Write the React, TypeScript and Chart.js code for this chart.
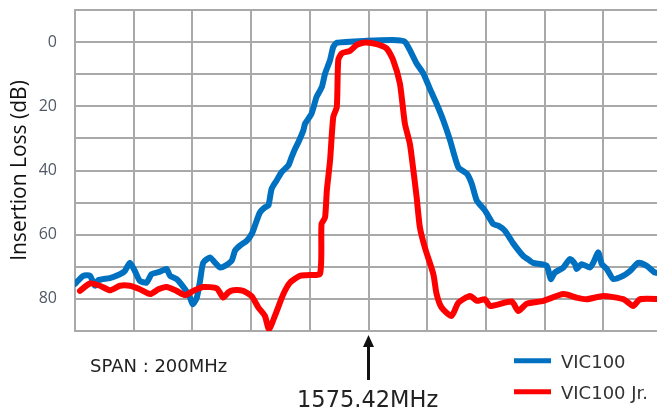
import React, { useEffect, useRef } from "react";
import { Chart, registerables } from "chart.js";

Chart.register(...registerables);

// Frequency offset from 1575.42 MHz (MHz), span 200 MHz
const vic100Freq = [
  -100, -97.2, -94.9, -93.2, -92.1, -88.1, -84.7, -83.0, -81.3, -79.6,
  -77.9, -75.6, -73.9, -71.0, -68.8, -67.6, -65.4, -62.5, -60.8, -59.9,
  -58.5, -57.4, -56.3, -54.0, -52.3, -50.6, -48.9, -46.6, -45.5, -43.8,
  -41.5, -39.8, -38.7, -37.0, -35.3, -34.1, -33.0, -31.3, -29.6, -27.3,
  -26.2, -25.0, -23.9, -22.2, -21.6, -19.4, -17.7, -15.9, -14.8, -13.1,
  -12.0, -10.8, -0.6, 9.6, 12.4, 14.1, 16.4, 18.7, 20.9, 23.2,
  25.5, 27.8, 30.6, 33.5, 35.2, 36.9, 39.7, 42.5, 44.2, 46.5,
  49.3, 52.7, 55.0, 56.1, 60.7, 62.1, 63.5, 66.4, 68.6, 70.4,
  70.9, 72.6, 75.5, 76.6, 78.3, 79.5, 81.2, 83.4, 86.8, 89.1,
  91.9, 94.8, 97.6, 100,
];
const vic100Loss = [
  75.3, 72.8, 72.8, 75.9, 74.2, 73.5, 72.3, 71.3, 68.7, 71.3,
  74.4, 74.9, 72.3, 71.5, 70.7, 72.8, 73.8, 77.0, 79.6, 81.7,
  79.6, 74.4, 68.7, 67.1, 68.7, 70.2, 69.7, 68.1, 65.0, 63.4,
  61.9, 59.8, 57.2, 53.1, 51.5, 50.9, 45.7, 43.1, 40.5, 38.4,
  35.8, 33.2, 31.2, 27.5, 25.4, 22.3, 17.1, 14.0, 9.8, 5.6,
  1.5, 0.2, -0.4, -0.6, -0.1, 2.5, 6.7, 9.8, 14.5, 19.2,
  24.4, 30.6, 39.0, 41.0, 44.2, 49.4, 52.5, 56.7, 57.2, 58.8,
  62.7, 66.6, 68.1, 68.8, 69.7, 73.8, 71.8, 70.2, 67.6, 69.2,
  70.7, 69.2, 70.2, 68.7, 65.5, 69.2, 70.7, 73.8, 72.8, 71.3,
  68.8, 69.7, 71.8, 71.9,
];

const jrFreq = [
  -98.3, -94.9, -91.5, -88.1, -84.7, -81.3, -77.9, -74.4, -71.6, -68.8,
  -65.4, -62.5, -59.7, -56.3, -51.7, -49.5, -47.8, -46.1, -42.7, -39.8,
  -37.5, -35.3, -33.9, -31.9, -29.0, -26.7, -23.3, -21.1, -16.5, -16.0,
  -14.8, -14.2, -13.1, -12.0, -10.8, -10.3, -9.1, -6.3, -4.0, -1.2,
  2.8, 6.2, 8.4, 10.7, 12.4, 14.1, 15.3, 16.4, 17.5, 19.2,
  22.1, 23.2, 24.9, 28.3, 30.6, 34.6, 36.9, 39.7, 41.4, 48.8,
  51.0, 53.9, 59.6, 66.4, 70.9, 74.3, 80.0, 86.8, 90.2, 92.5,
  100,
];
const jrLoss = [
  77.5, 75.2, 75.9, 77.3, 75.9, 75.9, 77.0, 78.5, 77.0, 76.3,
  77.5, 78.8, 77.5, 76.3, 76.7, 79.6, 78.0, 77.3, 77.5, 79.2,
  82.7, 85.3, 89.5, 85.3, 78.5, 74.9, 72.8, 72.6, 72.1, 56.7,
  54.6, 46.3, 36.9, 23.3, 20.2, 5.6, 3.5, 2.7, 0.9, 0.1,
  0.6, 2.0, 5.6, 12.9, 25.4, 31.7, 40.0, 48.3, 57.7, 64.0,
  72.3, 78.5, 82.7, 85.3, 81.2, 79.1, 80.6, 80.1, 82.2, 80.8,
  83.8, 81.5, 80.6, 78.5, 79.6, 80.1, 79.1, 80.1, 82.2, 80.1,
  80.1,
];

const yTickLabels = [0, 20, 40, 60, 80];
const seriesNames = ["VIC100", "VIC100 Jr."];
const seriesColors = ["#0070C0", "#FF0000"];
const yAxisTitle = "Insertion Loss (dB)";
const spanLabel = "SPAN : 200MHz";
const centerLabel = "1575.42MHz";

const GRID = "#a9a9a9";

export default function App() {
  const ref = useRef<HTMLCanvasElement | null>(null);

  useEffect(() => {
    if (!ref.current) return;
    const toPts = (xs: number[], ys: number[]) => xs.map((x, i) => ({ x, y: ys[i] }));
    const chart = new Chart(ref.current, {
      type: "line",
      data: {
        datasets: [
          {
            label: seriesNames[1],
            data: toPts(jrFreq, jrLoss),
            borderColor: seriesColors[1],
            backgroundColor: seriesColors[1],
            borderWidth: 6,
            pointRadius: 0,
            tension: 0.2,
            borderJoinStyle: "round",
            borderCapStyle: "round",
            order: 0,
          },
          {
            label: seriesNames[0],
            data: toPts(vic100Freq, vic100Loss),
            borderColor: seriesColors[0],
            backgroundColor: seriesColors[0],
            borderWidth: 6,
            pointRadius: 0,
            tension: 0.2,
            borderJoinStyle: "round",
            borderCapStyle: "round",
            order: 1,
          },
        ],
      },
      options: {
        animation: false,
        responsive: false,
        devicePixelRatio: 1,
        layout: { padding: { top: 10, right: 18, left: 0, bottom: 0 } },
        plugins: { legend: { display: false }, tooltip: { enabled: false } },
        scales: {
          x: {
            type: "linear",
            min: -100,
            max: 100,
            ticks: { display: false, stepSize: 20, autoSkip: false },
            grid: { color: GRID, lineWidth: 2, drawTicks: false },
            border: { color: GRID, width: 2 },
            afterFit: (s: any) => {
              s.height = 78;
              s.paddingLeft = 0;
              s.paddingRight = 0;
            },
          },
          y: {
            type: "linear",
            reverse: true,
            min: -10,
            max: 90,
            ticks: {
              stepSize: 10,
              autoSkip: false,
              padding: 18,
              color: "#515866",
              font: { family: "'Open Sans'", size: 16 },
              callback: (v: any) => (yTickLabels.includes(Number(v)) ? String(v) : ""),
            },
            grid: { color: GRID, lineWidth: 2, drawTicks: false },
            border: { color: GRID, width: 2 },
            title: {
              display: true,
              text: yAxisTitle,
              color: "#111111",
              font: { family: "'Open Sans'", size: 21 },
              padding: { top: 7, bottom: 0 },
            },
            afterFit: (s: any) => {
              s.width = 75;
              s.paddingTop = 0;
              s.paddingBottom = 0;
            },
          },
        },
      },
    } as any);
    return () => chart.destroy();
  }, []);

  return (
    <div
      style={{
        position: "fixed",
        left: 0,
        top: 0,
        width: 657,
        height: 409,
        overflow: "hidden",
        background: "#ffffff",
      }}
    >
      <canvas
        ref={ref}
        width={680}
        height={409}
        style={{ position: "absolute", left: 0, top: 0, width: 680, height: 409 }}
      />
      <svg
        width={657}
        height={409}
        style={{ position: "absolute", left: 0, top: 0 }}
        fontFamily="'DejaVu Sans'"
      >
        <text x={90} y={371.5} fontSize={18} fill="#222222">
          {spanLabel}
        </text>
        <line x1={368.5} y1={345} x2={368.5} y2={380} stroke="#111111" strokeWidth={3} />
        <polygon points="368.5,335 363,347 374,347" fill="#111111" />
        <text x={297} y={407} fontSize={22.5} fill="#222222">
          {centerLabel}
        </text>
        <line x1={514} y1={360.7} x2={551} y2={360.7} stroke={seriesColors[0]} strokeWidth={5} />
        <text x={561} y={367.6} fontSize={18} fill="#333333">
          {seriesNames[0]}
        </text>
        <line x1={514} y1={391.7} x2={551} y2={391.7} stroke={seriesColors[1]} strokeWidth={5} />
        <text x={561} y={398.6} fontSize={18} fill="#333333">
          {seriesNames[1]}
        </text>
      </svg>
    </div>
  );
}
